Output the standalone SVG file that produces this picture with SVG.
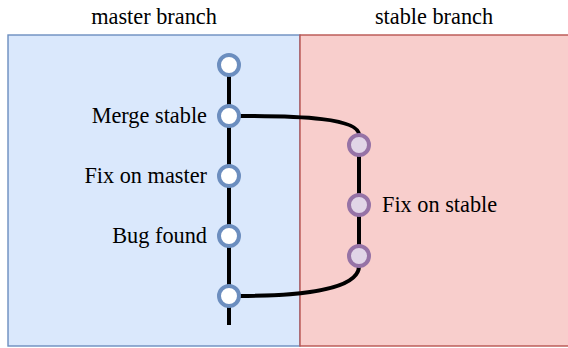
<svg xmlns="http://www.w3.org/2000/svg" width="568" height="348" viewBox="0 0 568 348">
<style>
text{font-family:"Liberation Serif","Times New Roman",serif;font-size:22.3px;fill:#000}
.m{fill:#ffffff;stroke:#6c8ebf;stroke-width:4}
.s{fill:#e1d5e7;stroke:#9673a6;stroke-width:4}
.c{fill:none;stroke:#000;stroke-width:4}
</style>
<g id="lanes">
<rect x="8" y="35" width="292" height="311" fill="#dae8fc" stroke="#6c8ebf" stroke-width="1.4"/>
<rect x="300" y="35" width="270" height="311" fill="#f8cecc" stroke="#b85450" stroke-width="1.4"/>
<text x="154" y="24" text-anchor="middle">master branch</text>
<text x="434" y="24" text-anchor="middle">stable branch</text>
</g>
<g id="connectors">
<path class="c" d="M229 65V325"/>
<path class="c" d="M359 145V256"/>
<path class="c" d="M239 116C300 116 359 118 359 135"/>
<path class="c" d="M239 296C300 296 359 290 359 266"/>
</g>
<g id="m1"><circle class="m" cx="229" cy="65" r="10"/></g>
<g id="m2"><circle class="m" cx="229" cy="116" r="10"/><text x="207" y="123" text-anchor="end">Merge stable</text></g>
<g id="m3"><circle class="m" cx="229" cy="176" r="10"/><text x="207" y="183" text-anchor="end">Fix on master</text></g>
<g id="m4"><circle class="m" cx="229" cy="236" r="10"/><text x="207" y="243" text-anchor="end">Bug found</text></g>
<g id="m5"><circle class="m" cx="229" cy="296" r="10"/></g>
<g id="s1"><circle class="s" cx="359" cy="145" r="10"/></g>
<g id="s2"><circle class="s" cx="359" cy="205" r="10"/><text x="382" y="212">Fix on stable</text></g>
<g id="s3"><circle class="s" cx="359" cy="256" r="10"/></g>
</svg>
